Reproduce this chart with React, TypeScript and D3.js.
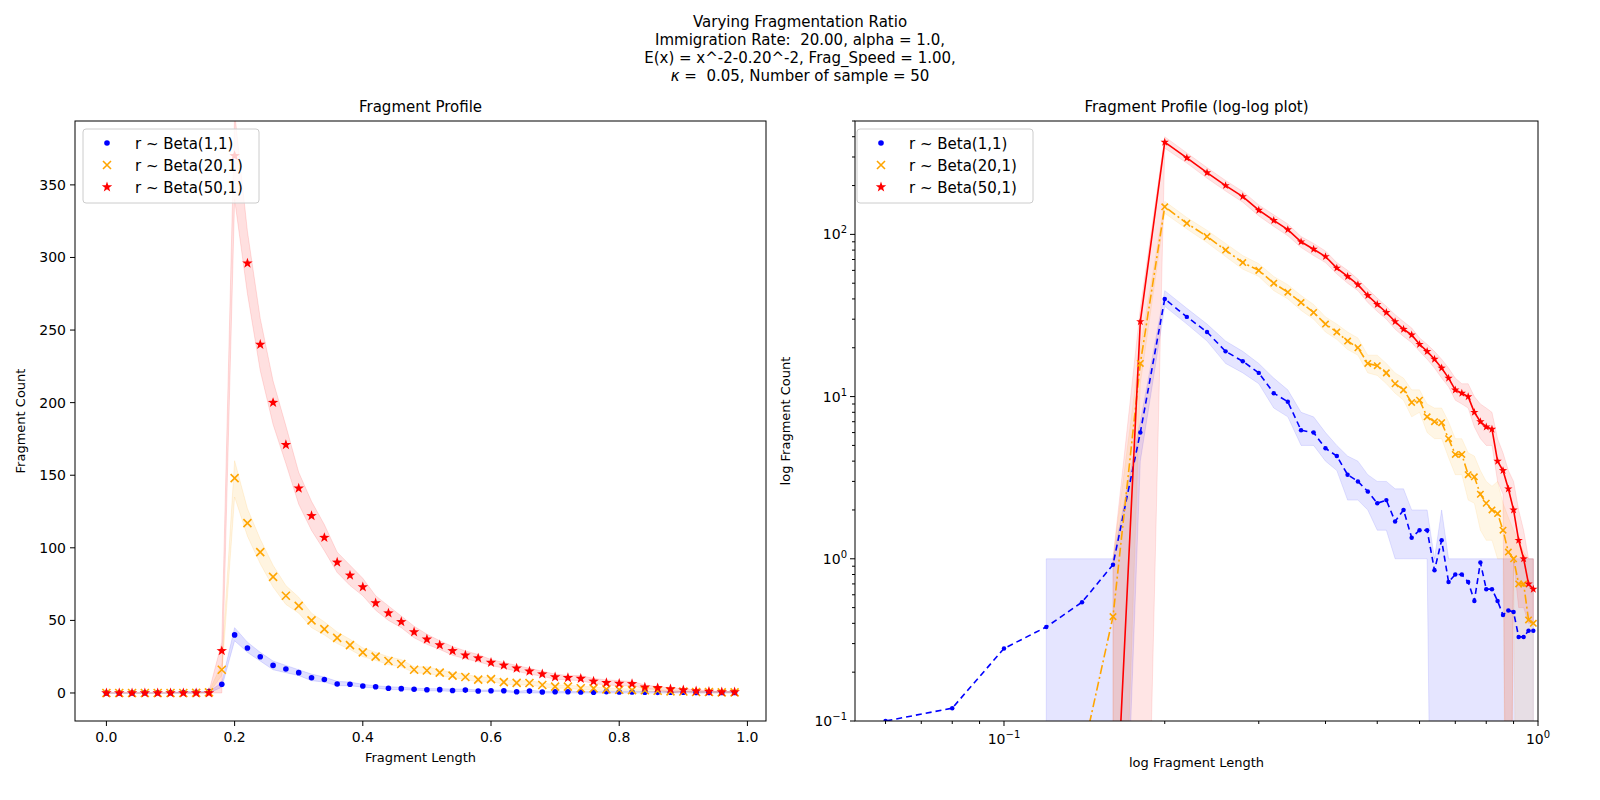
import React from "react";
import * as d3 from "d3";

const xs = d3.range(50).map(i => +(i * 0.02).toFixed(2));
const blue = [0,0.02,0.06,0.1,0.12,0.28,0.38,0.54,0.92,6,
 40,31,25,19,16.5,14,10.5,9.3,6.2,6.0, 4.8,4.3,3.3,3.0,2.6,2.2,2.3,1.7,2.0,1.35,
 1.5,1.5,0.85,1.3,0.72,0.8,0.8,0.72,0.55,0.95, 0.65,0.65,0.55,0.45,0.48,0.47,0.33,0.33,0.36,0.36];
const blueLo = [0,0,0,0,0,0,0,0,0,4,
 36,28,22,16,14,12,8.5,7.5,5,5, 4,3.5,2.3,2.3,2,1.5,1.5,1,1,1,
 1,1,0,0,0,0,0,0,0,0, 0,0,0,0,0,0,0,0,0,0];
const blueHi = [0,0,0,0,0,0,1,1,1,7,
 45,35,28,22,19,16,13,11,8,7.5, 6,5,4.3,4,3.3,3,3,2.7,2.7,2,
 2,2,1,2,1,1,1,1,1,1, 1,1,1,1,1,1,1,1,1,1];
const orange = [0,0,0,0,0,0,0,0.06,0.44,16,
 148,117,97,80,67,60,50,44,38,33, 28,25,22,20,16,15.5,14,12,11,9.2,
 9.5,7.5,7.0,6.9,5.5,4.4,4.4,3.3,3.2,2.5, 2.2,2.0,1.9,1.5,1.1,1.0,0.7,0.7,0.42,0.4];
const orangeLo = [0,0,0,0,0,0,0,0,0,12,
 135,108,89,73,61,55,45,40,34,30, 25,22.5,19.5,18,14,13.5,12,10.5,9.5,7.5,
 8,6,5.5,5.5,4.2,3.3,3.3,2.3,2.2,1.5, 1.3,1.3,1,1,0,1,0,0,0,0];
const orangeHi = [0,0,0,0,0,0,0,0,1,20,
 160,127,106,88,74,66,55,49,42,37, 31,28,25,23,18,18,16,14,13,11,
 11,9,8.5,8.5,7,5.5,5.5,4.5,4.3,3.5, 3,2.8,3,2.2,1.8,1.5,1.3,1.1,1,1];
const red = [0,0,0,0,0,0,0,0,0.01,29,
 370,296,240,200,171,141,122,107,90,81, 73,62,55,49,42,37,33,29,26,24,
 21,19,17,15,13,11,10.5,10,8,7, 6.5,6.3,4,3.5,2.7,2.0,1.3,1.0,0.7,0.65];
const redLo = [0,0,0,0,0,0,0,0,0,0,
 340,275,222,185,158,130,112,98,83,74, 67,57,50,45,38,33.5,30,26,23.5,21.5,
 19,17,15,13,11.5,9.5,9,8.5,6.5,5.5, 5,5,3,2.5,0,1,0.5,0.5,0.4,0.4];
const redHi = [0,0,0,0,0,0,0,0,1,35,
 400,318,258,215,184,152,132,116,97,88, 79,67,60,53,46,40.5,36,32,29,26.5,
 23,21,19,17,15,13,12,12,10,9, 8.5,8,5.5,4.5,3.5,3,2,1.5,1,1];

const seriesNames = ["r ~ Beta(1,1)", "r ~ Beta(20,1)", "r ~ Beta(50,1)"];
const series = [
  { name: seriesNames[0], y: blue, lo: blueLo, hi: blueHi, color: "blue", fill: "#0000ff", marker: "dot", dash: "6,4" },
  { name: seriesNames[1], y: orange, lo: orangeLo, hi: orangeHi, color: "orange", fill: "#ffa500", marker: "x", dash: "9,3,2,3" },
  { name: seriesNames[2], y: red, lo: redLo, hi: redHi, color: "red", fill: "#ff0000", marker: "star", dash: "" },
];
const titleLines = ["Varying Fragmentation Ratio", "Immigration Rate:\u00a0\u00a020.00, alpha = 1.0,", "E(x) = x^-2-0.20^-2, Frag_Speed = 1.00,"];
const linTicksX = [0, 0.2, 0.4, 0.6, 0.8, 1.0];
const linTicksY = [0, 50, 100, 150, 200, 250, 300, 350];

const FONT = "DejaVu Sans, sans-serif";

function starPath(r: number) {
  const pts: string[] = [];
  for (let i = 0; i < 10; i++) {
    const a = -Math.PI / 2 + (i * Math.PI) / 5;
    const rr = i % 2 === 0 ? r : r * 0.4;
    pts.push(`${(rr * Math.cos(a)).toFixed(2)},${(rr * Math.sin(a)).toFixed(2)}`);
  }
  return "M" + pts.join("L") + "Z";
}

function Marker({ kind, x, y, color, s }: any) {
  if (kind === "dot") return <circle cx={x} cy={y} r={2.8 * s} fill={color} />;
  if (kind === "x") {
    const r = 4 * s;
    return <path d={`M${x - r},${y - r}L${x + r},${y + r}M${x - r},${y + r}L${x + r},${y - r}`} stroke={color} strokeWidth={1.6} />;
  }
  return <path d={starPath(5.5 * s)} transform={`translate(${x},${y})`} fill={color} />;
}

export default function App() {
  const L = { x0: 75, x1: 766, y0: 121, y1: 721 };
  const R = { x0: 855, x1: 1538, y0: 121, y1: 721 };
  const lx = d3.scaleLinear().domain([-0.049, 1.029]).range([L.x0, L.x1]);
  const ly = d3.scaleLinear().domain([-19.3, 394]).range([L.y1, L.y0]);
  const gx = d3.scaleLog().domain([0.0526, 1.0]).range([R.x0, R.x1]);
  const gy = d3.scaleLog().domain([0.1, 500]).range([R.y1, R.y0]);
  const safe = (v: number) => (v > 0 ? v : 1e-4);

  const legend = (x0: number, y0: number) => (
    <g>
      <rect x={x0} y={y0} width={176} height={74} rx={3} fill="white" fillOpacity={0.8} stroke="#ccc" />
      {series.map((s, i) => (
        <g key={i}>
          <Marker kind={s.marker} x={x0 + 24} y={y0 + 14 + i * 22} color={s.color} s={1} />
          <text x={x0 + 52} y={y0 + 19.5 + i * 22} fontSize={15} fontFamily={FONT}>{s.name}</text>
        </g>
      ))}
    </g>
  );

  const minorX: number[] = [];
  [0.01, 0.1].forEach(d => [2,3,4,5,6,7,8,9].forEach(k => { const v = d*k; if (v >= 0.0526 && v <= 1) minorX.push(v); }));
  const minorY: number[] = [];
  [0.1, 1, 10, 100].forEach(d => [2,3,4,5,6,7,8,9].forEach(k => { const v = d*k; if (v <= 500) minorY.push(v); }));

  return (
    <div style={{ position: "fixed", left: 0, top: 0, width: 1600, height: 800, overflow: "hidden", background: "white" }}>
    <svg width={1600} height={800} style={{ display: "block" }}>
      <defs>
        <clipPath id="cl"><rect x={L.x0} y={L.y0} width={L.x1 - L.x0} height={L.y1 - L.y0} /></clipPath>
        <clipPath id="cr"><rect x={R.x0} y={R.y0} width={R.x1 - R.x0} height={R.y1 - R.y0} /></clipPath>
      </defs>
      {titleLines.map((t, i) => (
        <text key={i} x={800} y={27 + i * 18} textAnchor="middle" fontSize={15} fontFamily={FONT}>{t}</text>
      ))}
      <text x={800} y={81} textAnchor="middle" fontSize={15} fontFamily={FONT}><tspan fontStyle="italic">κ</tspan>{" =\u00a0\u00a00.05, Number of sample = 50"}</text>

      <text x={(L.x0 + L.x1) / 2} y={112} textAnchor="middle" fontSize={15} fontFamily={FONT}>Fragment Profile</text>
      <g clipPath="url(#cl)">
        {series.map((s, i) => {
          const area = d3.area<number>().x((_, j) => lx(xs[j])).y0((_, j) => ly(s.lo[j])).y1((_, j) => ly(s.hi[j]));
          return <path key={i} d={area(s.y) || ""} fill={s.fill} fillOpacity={0.12} stroke={s.fill} strokeOpacity={0.12} />;
        })}
        {series.map((s, i) => s.y.map((v, j) => <Marker key={i + "-" + j} kind={s.marker} x={lx(xs[j])} y={ly(v)} color={s.color} s={1} />))}
      </g>
      <rect x={L.x0} y={L.y0} width={L.x1 - L.x0} height={L.y1 - L.y0} fill="none" stroke="black" />
      {linTicksX.map(t => (
        <g key={t}>
          <line x1={lx(t)} x2={lx(t)} y1={L.y1} y2={L.y1 + 5} stroke="black" />
          <text x={lx(t)} y={L.y1 + 21} textAnchor="middle" fontSize={14} fontFamily={FONT}>{t.toFixed(1)}</text>
        </g>
      ))}
      {linTicksY.map(t => (
        <g key={t}>
          <line x1={L.x0 - 5} x2={L.x0} y1={ly(t)} y2={ly(t)} stroke="black" />
          <text x={L.x0 - 9} y={ly(t) + 5} textAnchor="end" fontSize={14} fontFamily={FONT}>{t}</text>
        </g>
      ))}
      <text x={(L.x0 + L.x1) / 2} y={762} textAnchor="middle" fontSize={13} fontFamily={FONT}>Fragment Length</text>
      <text transform={`translate(25,${(L.y0 + L.y1) / 2}) rotate(-90)`} textAnchor="middle" fontSize={13} fontFamily={FONT}>Fragment Count</text>
      {legend(83, 129)}

      <text x={(R.x0 + R.x1) / 2} y={112} textAnchor="middle" fontSize={15} fontFamily={FONT}>Fragment Profile (log-log plot)</text>
      <g clipPath="url(#cr)">
        {series.map((s, i) => {
          const idx = d3.range(1, 50).filter(j => s.hi[j] > 0 || s.lo[j] > 0);
          const area = d3.area<number>().x(j => gx(xs[j])).y0(j => gy(safe(s.lo[j]))).y1(j => gy(safe(s.hi[j])));
          return <path key={i} d={area(idx) || ""} fill={s.fill} fillOpacity={0.1} stroke={s.fill} strokeOpacity={0.1} />;
        })}
        {series.map((s, i) => {
          const line = d3.line<number>().defined(j => s.y[j] > 0 && xs[j] > 0).x(j => gx(xs[j])).y(j => gy(s.y[j]));
          return <path key={i} d={line(d3.range(50)) || ""} fill="none" stroke={s.color} strokeWidth={1.6} strokeDasharray={s.dash} />;
        })}
        {series.map((s, i) => s.y.map((v, j) => (v > 0 && xs[j] > 0 ? <Marker key={i + "-" + j} kind={s.marker} x={gx(xs[j])} y={gy(v)} color={s.color} s={0.8} /> : null)))}
      </g>
      <rect x={R.x0} y={R.y0} width={R.x1 - R.x0} height={R.y1 - R.y0} fill="none" stroke="black" />
      {[0.1, 1].map((t, i) => (
        <g key={t}>
          <line x1={gx(t)} x2={gx(t)} y1={R.y1} y2={R.y1 + 5} stroke="black" />
          <text x={gx(t)} y={R.y1 + 23} textAnchor="middle" fontSize={14} fontFamily={FONT}>10<tspan dy={-6} fontSize={10}>{i === 0 ? "−1" : "0"}</tspan></text>
        </g>
      ))}
      {minorX.map(t => <line key={t} x1={gx(t)} x2={gx(t)} y1={R.y1} y2={R.y1 + 3} stroke="black" />)}
      {[0.1, 1, 10, 100].map((t, i) => (
        <g key={t}>
          <line x1={R.x0 - 5} x2={R.x0} y1={gy(t)} y2={gy(t)} stroke="black" />
          <text x={R.x0 - 8} y={gy(t) + 5} textAnchor="end" fontSize={14} fontFamily={FONT}>10<tspan dy={-6} fontSize={10}>{["−1", "0", "1", "2"][i]}</tspan></text>
        </g>
      ))}
      {minorY.map(t => <line key={t} x1={R.x0 - 3} x2={R.x0} y1={gy(t)} y2={gy(t)} stroke="black" />)}
      <text x={(R.x0 + R.x1) / 2} y={767} textAnchor="middle" fontSize={13} fontFamily={FONT}>log Fragment Length</text>
      <text transform={`translate(790,${(R.y0 + R.y1) / 2}) rotate(-90)`} textAnchor="middle" fontSize={13} fontFamily={FONT}>log Fragment Count</text>
      {legend(857, 129)}
    </svg>
    </div>
  );
}
